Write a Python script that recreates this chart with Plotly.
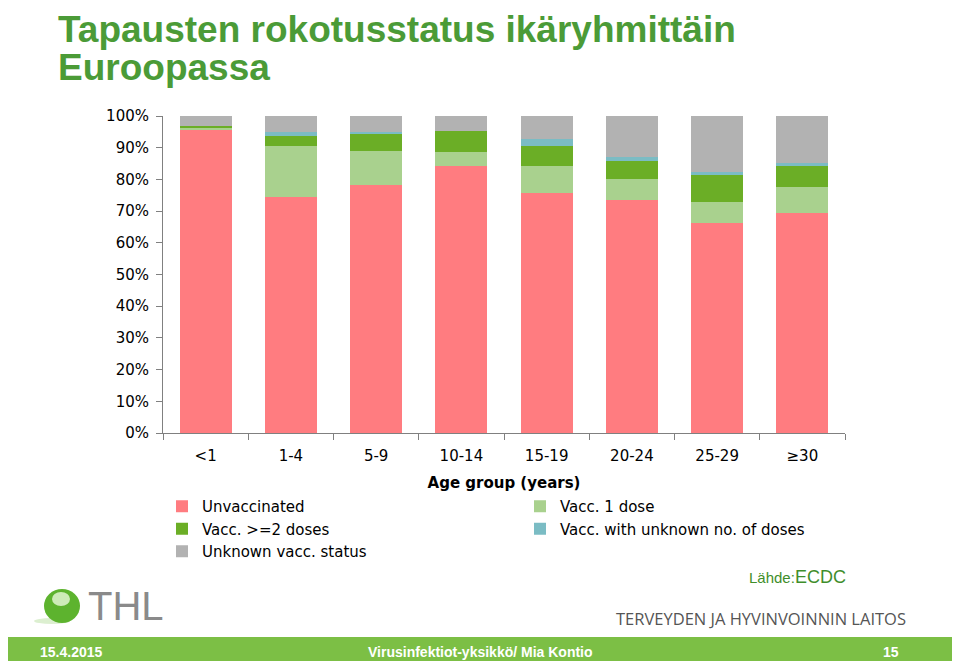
import plotly.graph_objects as go

categories = ["<1", "1-4", "5-9", "10-14", "15-19", "20-24", "25-29", "≥30"]
unvaccinated = [95.8, 74.5, 78.3, 84.1, 75.6, 73.5, 66.1, 69.5]
vacc_1_dose = [0.5, 16.0, 10.6, 4.5, 8.7, 6.5, 6.8, 8.0]
vacc_2_doses = [0.5, 3.3, 5.3, 6.7, 6.2, 5.8, 8.6, 6.8]
vacc_unknown_doses = [0.0, 1.2, 0.8, 0.0, 2.2, 1.4, 0.7, 1.0]
unknown_status = [3.2, 5.0, 5.0, 4.7, 7.3, 12.8, 17.8, 14.7]
y_ticks = [0, 10, 20, 30, 40, 50, 60, 70, 80, 90, 100]
y_tick_labels = [f"{v}%" for v in y_ticks]

series = [
    ("Unvaccinated", unvaccinated, "#FF7C80", "legend"),
    ("Vacc. 1 dose", vacc_1_dose, "#A9D18E", "legend2"),
    ("Vacc. >=2 doses", vacc_2_doses, "#6BAE26", "legend"),
    ("Vacc. with unknown no. of doses", vacc_unknown_doses, "#7BBCC4", "legend2"),
    ("Unknown vacc. status", unknown_status, "#B2B2B2", "legend"),
]

# page has an 8px body margin; work in page pixel coordinates
OFF = 8
PW, PH = 960, 661
W, H = PW - OFF, PH - OFF
L, R, T, B = 163, 845, 116, 433  # plot area in page pixels


def px(x):
    return (x - L) / (R - L)


def py(y):
    return (B - y) / (B - T)


fig = go.Figure()
for name, vals, col, lg in series:
    fig.add_trace(go.Bar(x=categories, y=vals, name=name, marker_color=col,
                         marker_line_width=0, legend=lg))

axis_font = dict(family="DejaVu Sans, Verdana, sans-serif", size=15, color="#000000")
legend_font = dict(family="DejaVu Sans, Verdana, sans-serif", size=15, color="#000000")

fig.update_layout(
    width=W, height=H,
    barmode="stack", bargap=0.39,
    plot_bgcolor="white", paper_bgcolor="white",
    margin=dict(l=L - OFF, r=W - (R - OFF), t=T - OFF, b=H - (B - OFF), pad=0),
    font=axis_font,
    showlegend=True,
    legend=dict(orientation="v", x=px(162), y=py(490), xanchor="left", yanchor="top",
                traceorder="normal", font=legend_font, itemwidth=30, tracegroupgap=0,
                bgcolor="rgba(0,0,0,0)"),
    legend2=dict(orientation="v", x=px(520), y=py(490), xanchor="left", yanchor="top",
                 traceorder="normal", font=legend_font, itemwidth=30, tracegroupgap=0,
                 bgcolor="rgba(0,0,0,0)"),
    xaxis=dict(showline=True, linecolor="#808080", linewidth=1, ticks="outside",
               tickson="boundaries", ticklen=6, tickcolor="#808080",
               tickfont=axis_font, showgrid=False, ticklabelstandoff=9,
               title=dict(text="<b>Age group (years)</b>", font=axis_font, standoff=13)),
    yaxis=dict(range=[0, 100], tickvals=y_ticks, ticktext=y_tick_labels,
               showline=True, linecolor="#808080", linewidth=1, ticks="outside",
               ticklen=6, tickcolor="#808080", tickfont=axis_font, showgrid=False,
               zeroline=False, ticklabelstandoff=4),
)

# Title: one text element; base size sets the line spacing, spans set glyph size
title_html = ("<span style='font-size:37px'><b>Tapausten rokotusstatus ikäryhmittäin</b></span><br>"
              "<span style='font-size:37px'><b>Euroopassa</b></span>")
fig.add_annotation(text=title_html,
                   xref="paper", yref="paper", x=px(57), y=py(OFF), xanchor="left", yanchor="top",
                   align="left", borderpad=0, showarrow=False,
                   font=dict(family="Liberation Sans, Arial, sans-serif", size=29, color="#4B9B37"))

# Footer band
fig.add_shape(type="rect", xref="paper", yref="paper", x0=px(0), x1=px(PW), y0=py(637), y1=py(PH),
              fillcolor="#7CBF45", line_width=0, layer="below")
footer_font = dict(family="Liberation Sans Narrow, Liberation Sans, Arial, sans-serif", size=14, color="white")
fig.add_annotation(text="<b>15.4.2015</b>", xref="paper", yref="paper", x=px(38), y=py(652),
                   xanchor="left", yanchor="middle", showarrow=False, font=footer_font)
fig.add_annotation(text="<b>Virusinfektiot-yksikkö/ Mia Kontio</b>", xref="paper", yref="paper",
                   x=px(480), y=py(652), xanchor="center", yanchor="middle", showarrow=False, font=footer_font)
fig.add_annotation(text="<b>15</b>", xref="paper", yref="paper", x=px(901), y=py(652),
                   xanchor="right", yanchor="middle", showarrow=False, font=footer_font)

# Source
fig.add_annotation(text="<span style='font-size:15px'>Lähde:</span><span style='font-size:18px'>ECDC</span>",
                   xref="paper", yref="paper", x=px(848), y=py(577), xanchor="right", yanchor="middle",
                   showarrow=False, font=dict(family="Liberation Sans, Arial, sans-serif", color="#3F8E2B"))

# Institution name
fig.add_annotation(text="TERVEYDEN JA HYVINVOINNIN LAITOS", xref="paper", yref="paper",
                   x=px(908), y=py(618), xanchor="right", yanchor="middle", showarrow=False,
                   font=dict(family="Open Sans, sans-serif", size=16.5, color="#555555"))

# THL logo
fig.add_shape(type="circle", xref="paper", yref="paper", x0=px(34), x1=px(70), y0=py(624), y1=py(618),
              fillcolor="#DCEFD0", line_width=0)
fig.add_shape(type="circle", xref="paper", yref="paper", x0=px(44), x1=px(80), y0=py(623), y1=py(589),
              fillcolor="#5DB32E", line_width=0)
fig.add_shape(type="circle", xref="paper", yref="paper", x0=px(52), x1=px(70), y0=py(606), y1=py(592),
              fillcolor="#CDEBB8", line_width=0)
fig.add_annotation(text="THL", xref="paper", yref="paper", x=px(86), y=py(606), xanchor="left",
                   yanchor="middle", showarrow=False,
                   font=dict(family="Liberation Sans, Arial, sans-serif", size=40, color="#8A8A8A"))

fig.write_html("out.html")
